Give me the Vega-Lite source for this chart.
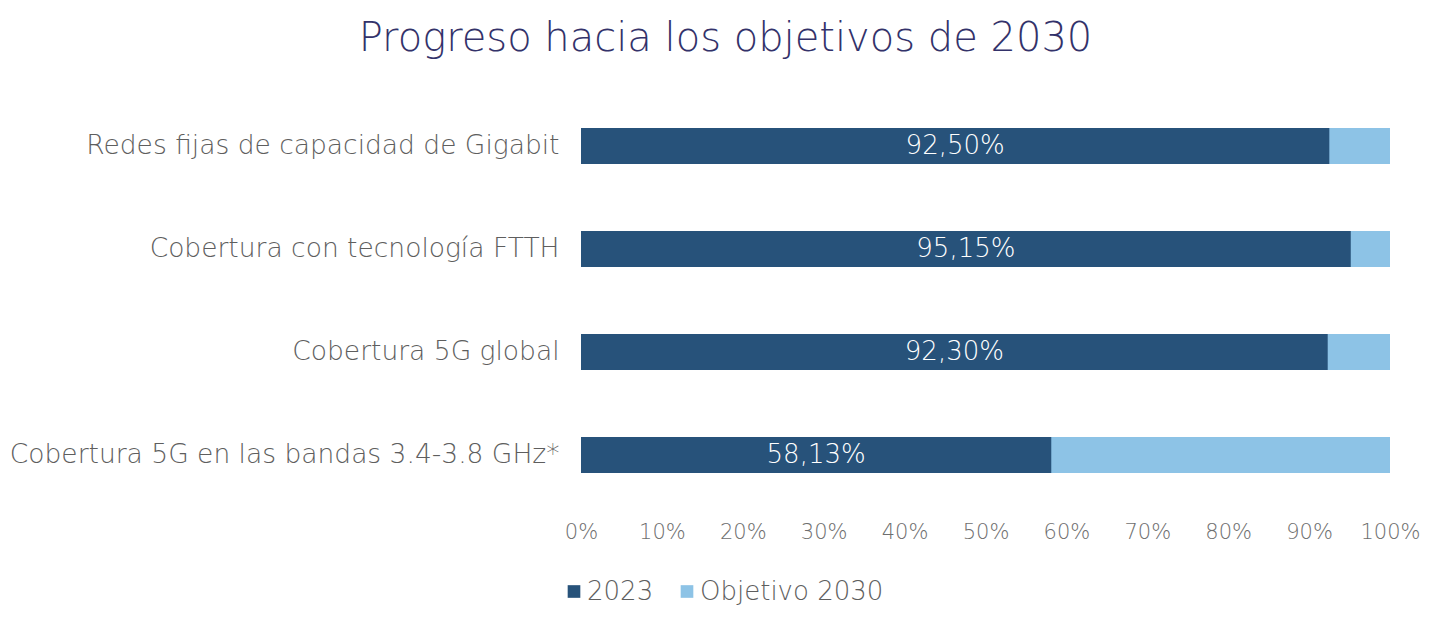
{
  "$schema": "https://vega.github.io/schema/vega-lite/v6.json",
  "width": 809,
  "height": 412,
  "autosize": {"type": "none"},
  "padding": {"left": 581, "top": 94.5, "right": 50, "bottom": 120},
  "background": "white",
  "config": {
    "view": {"stroke": null},
    "font": "DejaVu Sans"
  },
  "title": {
    "text": "Progreso hacia los objetivos de 2030",
    "fontSize": 40,
    "font": "DejaVu Sans",
    "fontWeight": 200,
    "color": "#33326a",
    "anchor": "middle",
    "dx": -260,
    "offset": 36
  },
  "data": {
    "values": [
      {"indicador": "Redes fijas de capacidad de Gigabit", "serie": "Objetivo 2030", "valor": 100, "etiqueta": ""},
      {"indicador": "Cobertura con tecnología FTTH", "serie": "Objetivo 2030", "valor": 100, "etiqueta": ""},
      {"indicador": "Cobertura 5G global", "serie": "Objetivo 2030", "valor": 100, "etiqueta": ""},
      {"indicador": "Cobertura 5G en las bandas 3.4-3.8 GHz*", "serie": "Objetivo 2030", "valor": 100, "etiqueta": ""},
      {"indicador": "Redes fijas de capacidad de Gigabit", "serie": "2023", "valor": 92.5, "etiqueta": "92,50%"},
      {"indicador": "Cobertura con tecnología FTTH", "serie": "2023", "valor": 95.15, "etiqueta": "95,15%"},
      {"indicador": "Cobertura 5G global", "serie": "2023", "valor": 92.3, "etiqueta": "92,30%"},
      {"indicador": "Cobertura 5G en las bandas 3.4-3.8 GHz*", "serie": "2023", "valor": 58.13, "etiqueta": "58,13%"}
    ]
  },
  "encoding": {
    "y": {
      "field": "indicador",
      "type": "nominal",
      "sort": ["Redes fijas de capacidad de Gigabit", "Cobertura con tecnología FTTH", "Cobertura 5G global", "Cobertura 5G en las bandas 3.4-3.8 GHz*"],
      "scale": {"paddingInner": 0.65, "paddingOuter": 0.325},
      "axis": {
        "title": null,
        "domain": false,
        "ticks": false,
        "labelFontSize": 26.5,
        "labelFont": "DejaVu Sans",
        "labelFontWeight": 200,
        "labelColor": "#5e5e5e",
        "labelPadding": 22,
        "labelLimit": 700
      }
    }
  },
  "layer": [
    {
      "mark": {"type": "bar"},
      "encoding": {
        "x": {
          "field": "valor",
          "type": "quantitative",
          "stack": null,
          "scale": {"domain": [0, 100], "nice": false},
          "axis": {
            "title": null,
            "domain": false,
            "ticks": false,
            "grid": false,
            "values": [0, 10, 20, 30, 40, 50, 60, 70, 80, 90, 100],
            "labelExpr": "datum.value + '%'",
            "labelFontSize": 21,
            "labelFont": "DejaVu Sans",
            "labelFontWeight": 200,
            "labelColor": "#6e6e6e",
            "labelPadding": 15,
            "labelFlush": false
          }
        },
        "color": {
          "field": "serie",
          "type": "nominal",
          "scale": {"domain": ["2023", "Objetivo 2030"], "range": ["#27527a", "#8dc3e6"]},
          "legend": {
            "title": null,
            "orient": "none",
            "direction": "horizontal",
            "legendX": -20,
            "legendY": 484,
            "symbolType": "square",
            "symbolSize": 160,
            "symbolStrokeWidth": 0,
            "labelFontSize": 26,
            "labelFont": "DejaVu Sans",
            "labelFontWeight": 200,
            "labelColor": "#5e5e5e",
            "labelOffset": 0,
            "labelLimit": 400,
            "columnPadding": 20
          }
        },
        "order": {"field": "valor", "type": "quantitative", "sort": "descending"}
      }
    },
    {
      "transform": [{"filter": "datum.serie === '2023'"}],
      "mark": {"type": "text", "color": "white", "fontSize": 26, "font": "DejaVu Sans", "fontWeight": 200, "align": "center", "baseline": "middle"},
      "encoding": {
        "x": {
          "field": "valor",
          "type": "quantitative",
          "scale": {"domain": [0, 200], "nice": false},
          "axis": null
        },
        "text": {"field": "etiqueta"}
      }
    }
  ],
  "resolve": {"scale": {"x": "independent"}}
}
